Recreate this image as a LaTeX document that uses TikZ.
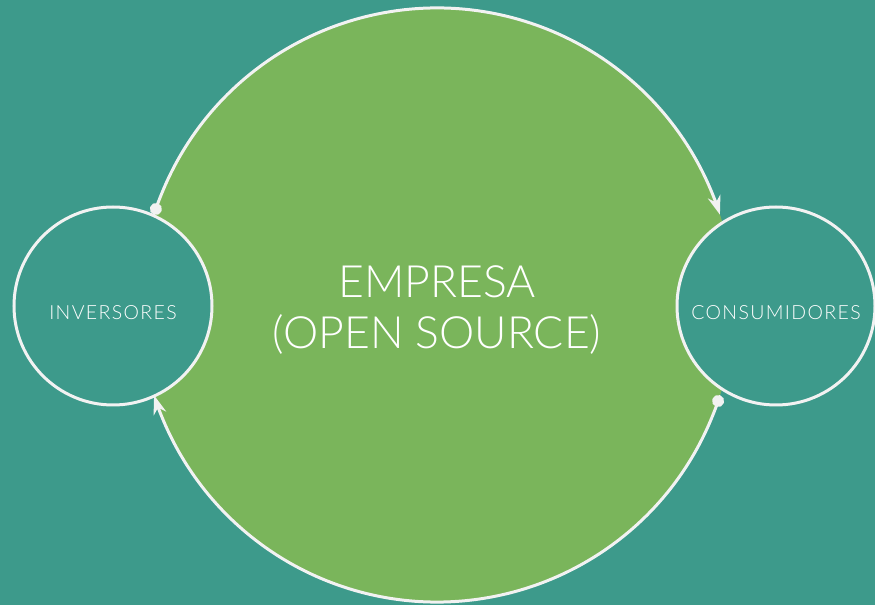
\documentclass[tikz,border=0pt]{standalone}
\usepackage{fontspec}
\IfFontExistsTF{Lato Light}{\setmainfont{Lato Light}}{\setmainfont{Lato}}
\usetikzlibrary{arrows.meta}
\definecolor{bgteal}{RGB}{61,154,139}
\definecolor{biggreen}{RGB}{122,181,91}
\definecolor{lineW}{RGB}{242,242,242}
\newcommand{\lowerby}[2]{\raisebox{-#1}[\height][\depth]{#2}}
\tikzset{
  bigc/.style={circle, fill=biggreen, minimum size=594pt, inner sep=0pt, outer sep=0pt, text=white, font=\fontsize{44.5}{51}\selectfont},
  smallc/.style={circle, fill=bgteal, draw=lineW, line width=3pt, minimum size=198pt, inner sep=0pt, outer sep=0pt, text=white, font=\fontsize{19.5}{22}\selectfont\addfontfeatures{LetterSpace=7}},
  flow/.style={draw=lineW, line width=3pt, line cap=round},
  tipdot/.tip={Circle[length=12pt]},
  tiparrow/.tip={Stealth[length=19pt,width=13pt,inset=6pt]},
}
\begin{document}
\begin{tikzpicture}[x=1pt,y=1pt]
\fill[bgteal] (0,0) rectangle (875,605);
\useasboundingbox (0,0) rectangle (875,605);
\node[bigc] (E) at (437,300) {\lowerby{8pt}{\begin{tabular}{@{}c@{}}EMPRESA\\(OPEN SOURCE)\end{tabular}}};
\node[smallc] (I) at (113,299) {\lowerby{7pt}{INVERSORES}};
\node[smallc] (C) at (776,299) {\lowerby{7pt}{CONSUMIDORES}};
\draw[flow, tipdot-tiparrow] ([shift={(162.3:297pt)}]E.center) arc[start angle=162.3, end angle=157, radius=297pt]
  arc[start angle=157, end angle=23, radius=297pt]
  arc[start angle=23, end angle=17.7, radius=297pt];
\draw[flow, tipdot-tiparrow] ([shift={(-17.7:297pt)}]E.center) arc[start angle=-17.7, end angle=-23, radius=297pt]
  arc[start angle=-23, end angle=-157, radius=297pt]
  arc[start angle=-157, end angle=-162.3, radius=297pt];
\end{tikzpicture}
\end{document}
